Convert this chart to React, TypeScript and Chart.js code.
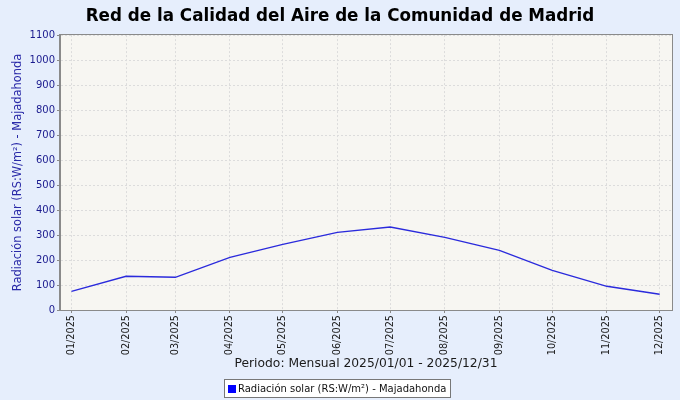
import React, { useEffect, useRef } from "react";
import { Chart, registerables } from "chart.js";

Chart.register(...registerables);

const monthLabels = [
  "01/2025", "02/2025", "03/2025", "04/2025", "05/2025", "06/2025",
  "07/2025", "08/2025", "09/2025", "10/2025", "11/2025", "12/2025",
];
const radiationValues = [75, 135, 131, 211, 263, 311, 332, 291, 239, 159, 95, 63];
const yTickStep = 100;
const yMax = 1100;

const titleText = "Red de la Calidad del Aire de la Comunidad de Madrid";
const yTitleText = "Radiación solar (RS:W/m²) - Majadahonda";
const xTitleText = "Periodo: Mensual 2025/01/01 - 2025/12/31";
const legendText = "Radiación solar (RS:W/m²) - Majadahonda";

const DAY = 86400000;
const dayOffsets = monthLabels.map((_, i) => (Date.UTC(2025, i, 1) - Date.UTC(2025, 0, 1)) / DAY);

const PAGE_BG = "#E6EEFC";
const PLOT_BG = "#F7F6F2";
const LINE_COLOR = "#2A2ADC";
const FONT = "'DejaVu Sans', sans-serif";

const decor = {
  id: "decor",
  beforeDraw(chart: any) {
    const { ctx, chartArea } = chart;
    ctx.save();
    ctx.fillStyle = PAGE_BG;
    ctx.fillRect(0, 0, chart.width, chart.height);
    ctx.fillStyle = PLOT_BG;
    ctx.fillRect(chartArea.left, chartArea.top, chartArea.right - chartArea.left, chartArea.bottom - chartArea.top);
    ctx.restore();
  },
  afterDraw(chart: any) {
    const { ctx, chartArea } = chart;
    ctx.save();
    ctx.strokeStyle = "#8a8a8a";
    ctx.lineWidth = 1;
    ctx.strokeRect(
      Math.round(chartArea.left) - 0.5,
      Math.round(chartArea.top) - 0.5,
      Math.round(chartArea.right - chartArea.left) + 1,
      Math.round(chartArea.bottom - chartArea.top) + 1
    );
    // legend
    ctx.font = "10px " + FONT;
    const tw = ctx.measureText(legendText).width;
    const boxW = Math.round(tw + 18);
    const boxH = 18;
    const cx = 337;
    const bx = Math.round(cx - boxW / 2) + 0.5;
    const by = 379.5;
    ctx.fillStyle = "#ffffff";
    ctx.fillRect(bx, by, boxW, boxH);
    ctx.strokeStyle = "#777777";
    ctx.strokeRect(bx, by, boxW, boxH);
    ctx.fillStyle = "#0000ff";
    ctx.fillRect(bx + 3.5, by + 5.5, 8, 8);
    ctx.fillStyle = "#111111";
    ctx.textBaseline = "middle";
    ctx.textAlign = "left";
    ctx.fillText(legendText, bx + 13.5, by + boxH / 2 + 0.5);
    ctx.restore();
  },
};

export default function App() {
  const ref = useRef<HTMLCanvasElement>(null);

  useEffect(() => {
    document.body.style.margin = "0";
    document.body.style.background = PAGE_BG;
    const chart = new Chart(ref.current!, {
      type: "line",
      data: {
        datasets: [
          {
            label: legendText,
            data: dayOffsets.map((d, i) => ({ x: d, y: radiationValues[i] })),
            borderColor: LINE_COLOR,
            backgroundColor: LINE_COLOR,
            borderWidth: 1.3,
            pointRadius: 0,
            tension: 0,
          },
        ],
      },
      options: {
        animation: false,
        responsive: false,
        devicePixelRatio: 1,
        layout: { padding: { left: 8, right: 8, top: 0, bottom: 30 } },
        plugins: {
          legend: { display: false },
          tooltip: { enabled: false },
          title: {
            display: true,
            text: titleText,
            color: "#000000",
            font: { family: FONT, size: 16.75, weight: "bold", lineHeight: 1.2 },
            padding: { top: 7, bottom: 8 },
          },
        },
        scales: {
          x: {
            type: "linear",
            min: -6.5,
            max: 341,
            afterBuildTicks: (scale: any) => {
              scale.ticks = dayOffsets.map((v) => ({ value: v }));
            },
            afterFit: (scale: any) => {
              scale.height = 60;
            },
            ticks: {
              autoSkip: false,
              maxRotation: 90,
              minRotation: 90,
              padding: 2,
              color: "#1a1a1a",
              font: { family: FONT, size: 9.7 },
              callback: (v: any) => {
                const i = dayOffsets.indexOf(Number(v));
                return i >= 0 ? monthLabels[i] : "";
              },
            },
            grid: {
              color: "#dcdcdc",
              borderDash: [2, 2],
              tickColor: "#8a8a8a",
              tickLength: 3,
              tickBorderDash: [],
            } as any,
            border: { display: true, color: "#8a8a8a", dash: [2, 2] } as any,
            title: {
              display: true,
              text: xTitleText,
              color: "#1a1a1a",
              font: { family: FONT, size: 12.3 },
              padding: { top: 0, bottom: -1 },
            },
          },
          y: {
            min: 0,
            max: yMax,
            afterFit: (scale: any) => {
              scale.width = 52;
            },
            ticks: {
              stepSize: yTickStep,
              color: "#1a1a8e",
              padding: 2,
              font: { family: FONT, size: 10 },
              callback: (v: any) => String(v),
            },
            grid: {
              color: "#dcdcdc",
              tickColor: "#8a8a8a",
              tickLength: 3,
              tickBorderDash: [],
            } as any,
            border: { display: true, color: "#8a8a8a", dash: [2, 2] } as any,
            title: {
              display: true,
              text: yTitleText,
              color: "#2a2aa8",
              font: { family: FONT, size: 11.4 },
              padding: { top: 3, bottom: 4 },
            },
          },
        },
      } as any,
      plugins: [decor],
    });
    return () => chart.destroy();
  }, []);

  return (
    <div style={{ position: "fixed", left: 0, top: 0, width: 680, height: 400, background: PAGE_BG }}>
      <canvas ref={ref} width={680} height={400} style={{ width: 680, height: 400, display: "block" }} />
    </div>
  );
}
